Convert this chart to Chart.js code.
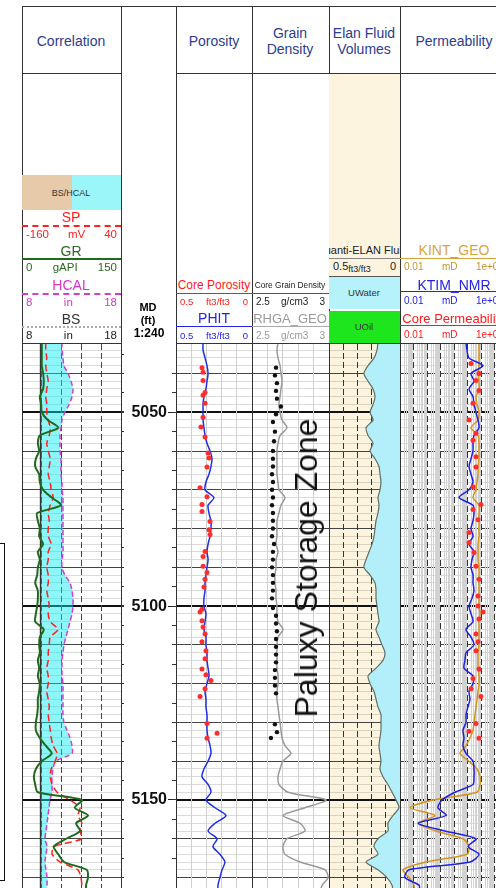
<!DOCTYPE html>
<html lang="en">
<head>
<meta charset="UTF-8" />
<title>Paluxy Storage Zone Log</title>
<script src="https://cdn.jsdelivr.net/npm/chart.js"></script>
<style>
  html, body { margin: 0; padding: 0; }
  body { position: relative; width: 496px; height: 888px; overflow: hidden; background: #fff;
         font-family: "Liberation Sans", Arial, sans-serif; }
  canvas { position: absolute; top: 344px; }
  .ln { position: absolute; background: #333; }
  .tx { position: absolute; transform: translate(-50%, -50%); white-space: nowrap; line-height: 1; }
  .title { color: #2d3c8e; font-size: 14px; text-align: center; line-height: 16px; }
  .nm { font-size: 14px; }
  .sc { position: absolute; display: flex; justify-content: space-between; align-items: center;
        padding: 0 4px; box-sizing: border-box; line-height: 1; white-space: nowrap; transform: translateY(-50%); }
  .rule { position: absolute; height: 0; }
  .box { position: absolute; }
</style>
</head>
<body>
  <canvas id="corrChart" width="102" height="544" style="left:22px"></canvas>
  <canvas id="depthChart" width="55" height="544" style="left:121px"></canvas>
  <canvas id="porChart" width="76" height="544" style="left:176px"></canvas>
  <canvas id="gdChart" width="77" height="544" style="left:252px"></canvas>
  <canvas id="elanChart" width="71" height="544" style="left:329px;background:#fcf4de"></canvas>
  <canvas id="permChart" width="108" height="544" style="left:400px"></canvas>

  <!-- frame -->
  <div class="ln" style="left:22px;top:6px;width:474px;height:1px"></div>
  <div class="ln" style="left:22px;top:73px;width:99px;height:1px"></div>
  <div class="ln" style="left:176px;top:73px;width:320px;height:1px"></div>
  <div class="ln" style="left:22px;top:343px;width:99px;height:1px"></div>
  <div class="ln" style="left:176px;top:343px;width:320px;height:1px"></div>
  <div class="ln" style="left:22px;top:6px;width:1px;height:882px"></div>
  <div class="ln" style="left:121px;top:6px;width:1px;height:882px"></div>
  <div class="ln" style="left:176px;top:6px;width:1px;height:882px"></div>
  <div class="ln" style="left:252px;top:6px;width:1px;height:882px"></div>
  <div class="ln" style="left:329px;top:6px;width:1px;height:882px"></div>
  <div class="ln" style="left:400px;top:6px;width:1px;height:882px"></div>

  <!-- titles -->
  <div class="tx title" style="left:71px;top:41px">Correlation</div>
  <div class="tx title" style="left:214px;top:41px">Porosity</div>
  <div class="tx title" style="left:290px;top:41px">Grain<br>Density</div>
  <div class="tx title" style="left:364px;top:41px">Elan Fluid<br>Volumes</div>
  <div class="tx title" style="left:454px;top:41px">Permeability</div>

  <!-- correlation header -->
  <div class="box" style="left:22px;top:175px;width:50px;height:35px;background:#e7caa9"></div>
  <div class="box" style="left:72px;top:175px;width:49px;height:35px;background:#9bf6fa"></div>
  <div class="tx" style="left:71px;top:193px;font-size:9px;color:#333">BS/HCAL</div>
  <div class="tx nm" style="left:71px;top:217px;color:#ff2020">SP</div>
  <div class="rule" style="left:22px;top:225px;width:99px;border-top:2px dashed #ff2020"></div>
  <div class="sc" style="left:22px;top:235px;width:99px;color:#ff2020;font-size:11.5px"><span>-160</span><span>mV</span><span>40</span></div>
  <div class="tx nm" style="left:71px;top:251px;color:#2b6b22">GR</div>
  <div class="rule" style="left:22px;top:258px;width:99px;border-top:2px solid #1e6b1e"></div>
  <div class="sc" style="left:22px;top:268px;width:99px;color:#2b6b22;font-size:11.5px"><span>0</span><span>gAPI</span><span>150</span></div>
  <div class="tx nm" style="left:71px;top:285px;color:#d936c6">HCAL</div>
  <div class="rule" style="left:22px;top:293px;width:99px;border-top:2px dashed #d63bd0"></div>
  <div class="sc" style="left:22px;top:303px;width:99px;color:#d936c6;font-size:11.5px"><span>8</span><span>in</span><span>18</span></div>
  <div class="tx nm" style="left:71px;top:319px;color:#333">BS</div>
  <div class="rule" style="left:22px;top:326px;width:99px;border-top:2px dotted #aaa"></div>
  <div class="sc" style="left:22px;top:336px;width:99px;color:#222;font-size:11.5px"><span>8</span><span>in</span><span>18</span></div>

  <!-- depth header -->
  <div class="tx" style="left:148px;top:307px;font-size:11px;font-weight:bold">MD</div>
  <div class="tx" style="left:148px;top:320px;font-size:11px;font-weight:bold">(ft)</div>
  <div class="tx" style="left:149px;top:333px;font-size:12px;font-weight:bold">1:240</div>

  <!-- porosity header -->
  <div class="tx" style="left:214px;top:285px;font-size:12px;color:#ff1a1a">Core Porosity</div>
  <div class="rule" style="left:176px;top:293px;width:76px;border-top:1.5px solid #ff1a1a"></div>
  <div class="sc" style="left:176px;top:302px;width:76px;color:#ff1a1a;font-size:9.5px"><span>0.5</span><span>ft3/ft3</span><span>0</span></div>
  <div class="tx nm" style="left:214px;top:318px;color:#2222e8">PHIT</div>
  <div class="rule" style="left:176px;top:326px;width:76px;border-top:1.5px solid #2222e8"></div>
  <div class="sc" style="left:176px;top:336px;width:76px;color:#2222e8;font-size:9.5px"><span>0.5</span><span>ft3/ft3</span><span>0</span></div>

  <!-- grain density header -->
  <div class="tx" style="left:290px;top:285px;font-size:8.3px;color:#222">Core Grain Density</div>
  <div class="rule" style="left:252px;top:293px;width:77px;border-top:1px solid #555"></div>
  <div class="sc" style="left:252px;top:302px;width:77px;color:#222;font-size:10px"><span>2.5</span><span>g/cm3</span><span>3</span></div>
  <div class="tx" style="left:290px;top:318px;font-size:13px;color:#9a9a9a">RHGA_GEO</div>
  <div class="rule" style="left:252px;top:326px;width:77px;border-top:1.5px solid #aaa"></div>
  <div class="sc" style="left:252px;top:336px;width:77px;color:#9a9a9a;font-size:10px"><span>2.5</span><span>g/cm3</span><span>3</span></div>

  <!-- elan header -->
  <div class="box" style="left:329px;top:74px;width:71px;height:202px;background:#fcf4de"></div>
  <div class="box" style="left:329px;top:243px;width:71px;height:14px;overflow:hidden">
    <div style="position:absolute;left:33px;top:1px;transform:translateX(-50%);white-space:nowrap;font-size:11px;color:#222">Quanti-ELAN Fluid</div>
  </div>
  <div class="rule" style="left:329px;top:258px;width:71px;border-top:1px solid #888"></div>
  <div class="sc" style="left:329px;top:266px;width:71px;color:#222;font-size:11px"><span>0.5<span style="font-size:9px;position:relative;top:2px">ft3/ft3</span></span><span>0</span></div>
  <div class="rule" style="left:329px;top:276px;width:71px;border-top:1px solid #555"></div>
  <div class="box" style="left:329px;top:277px;width:71px;height:32px;background:#b6f2f9"></div>
  <div class="tx" style="left:364px;top:293px;font-size:9.5px;color:#333">UWater</div>
  <div class="box" style="left:329px;top:311px;width:71px;height:32px;background:#1de61d"></div>
  <div class="tx" style="left:364px;top:327px;font-size:9.5px;color:#333">UOil</div>

  <!-- permeability header -->
  <div class="tx nm" style="left:454px;top:250px;color:#dba33a">KINT_GEO</div>
  <div class="rule" style="left:400px;top:258px;width:108px;border-top:1.5px solid #dba33a"></div>
  <div class="sc" style="left:400px;top:267px;width:108px;color:#c8932c;font-size:10px"><span>0.01</span><span>mD</span><span>1e+06</span></div>
  <div class="tx nm" style="left:454px;top:285px;color:#2424e0">KTIM_NMR</div>
  <div class="rule" style="left:400px;top:291px;width:108px;border-top:1.5px solid #2424e0"></div>
  <div class="sc" style="left:400px;top:301px;width:108px;color:#2424e0;font-size:10px"><span>0.01</span><span>mD</span><span>1e+06</span></div>
  <div class="tx" style="left:454px;top:318px;font-size:13px;color:#ff1a1a">Core Permeability</div>
  <div class="rule" style="left:400px;top:325px;width:108px;border-top:1.5px solid #ff1a1a"></div>
  <div class="sc" style="left:400px;top:335px;width:108px;color:#ff1a1a;font-size:10px"><span>0.01</span><span>mD</span><span>1e+06</span></div>

  <!-- zone label and side box -->
  <div class="tx" style="left:306px;top:568px;font-size:32px;color:#111;transform:translate(-50%,-50%) rotate(-90deg)">Paluxy Storage Zone</div>
  <div class="box" style="left:-10px;top:543px;width:13px;height:336px;border:1.5px solid #111"></div>

<script>
  // ---- data (depth in ft MD) ----
  const depthFt = [
    5032, 5034, 5036, 5038, 5040, 5042, 5044, 5046, 5048, 5050,
    5052, 5054, 5056, 5058, 5060, 5062, 5064, 5066, 5068, 5070,
    5072, 5074, 5076, 5078, 5080, 5082, 5084, 5086, 5088, 5090,
    5092, 5094, 5096, 5098, 5100, 5102, 5104, 5106, 5108, 5110,
    5112, 5114, 5116, 5118, 5120, 5122, 5124, 5126, 5128, 5130,
    5132, 5134, 5136, 5138, 5140, 5142, 5144, 5146, 5148, 5150,
    5152, 5154, 5156, 5158, 5160, 5162, 5164, 5166, 5168, 5170,
    5172, 5174
  ];
  const grApi = [
    30, 30, 30, 30, 32, 33, 32, 27, 29, 30,
    39, 55, 27, 24, 26, 21, 20, 26, 27, 32,
    45, 59, 23, 24, 27, 26, 32, 24, 27, 24,
    23, 20, 24, 24, 23, 21, 20, 33, 27, 26,
    27, 24, 26, 24, 27, 26, 24, 24, 23, 21,
    21, 27, 36, 45, 30, 21, 18, 20, 24, 91,
    80, 100, 82, 88, 67, 48, 55, 64, 98, 100,
    97, 97
  ];
  const spMv = [
    -112, -112, -110, -112, -110, -107, -110, -112, -110, -110,
    -107, -103, -105, -110, -107, -103, -105, -107, -103, -101,
    -97, -103, -107, -105, -107, -107, -101, -107, -107, -110,
    -107, -107, -110, -107, -105, -107, -103, -87, -103, -105,
    -107, -107, -110, -107, -107, -110, -107, -105, -107, -105,
    -103, -101, -97, -89, -93, -101, -103, -99, -89, -63,
    -43, -47, -39, -43, -39, -95, -99, -83, -47, -41,
    -39, -39
  ];
  const calIn = [
    12.04, 12.04, 12.14, 12.24, 12.65, 12.95, 13.15, 13.05, 12.75, 12.34,
    12.04, 11.94, 11.84, 11.84, 11.84, 11.94, 11.94, 11.94, 12.04, 12.04,
    12.14, 12.14, 12.14, 12.14, 12.14, 12.14, 12.14, 12.14, 12.04, 12.04,
    12.34, 12.85, 13.05, 13.15, 13.15, 13.05, 12.85, 12.65, 12.44, 12.24,
    12.14, 12.04, 12.04, 12.04, 12.14, 12.14, 12.14, 12.14, 12.14, 12.24,
    12.55, 12.85, 13.05, 13.05, 11.4, 11.13, 11.03, 11.03, 11.03, 10.83,
    10.73, 10.63, 10.53, 10.42, 10.32, 10.53, 10.42, 10.32, 10.42, 10.53,
    10.53, 10.53
  ];
  const bsDepth = [5032, 5174];
  const bsIn = [9.875, 9.875];

  const phit = [
    0.322, 0.322, 0.309, 0.296, 0.289, 0.296, 0.303, 0.316, 0.322, 0.322,
    0.322, 0.316, 0.309, 0.296, 0.276, 0.263, 0.270, 0.283, 0.303, 0.309,
    0.250, 0.289, 0.283, 0.270, 0.270, 0.276, 0.289, 0.296, 0.289, 0.296,
    0.303, 0.309, 0.309, 0.316, 0.316, 0.303, 0.309, 0.316, 0.303, 0.303,
    0.296, 0.296, 0.289, 0.283, 0.296, 0.309, 0.303, 0.303, 0.296, 0.296,
    0.296, 0.289, 0.276, 0.270, 0.289, 0.316, 0.329, 0.289, 0.270, 0.303,
    0.243, 0.171, 0.243, 0.289, 0.230, 0.257, 0.211, 0.178, 0.197, 0.211,
    0.224, 0.224
  ];
  const corePorDepth = [
    5038.5, 5039.7, 5041.8, 5044.9, 5045.6, 5047.7, 5051.3, 5053.8, 5056.4, 5060.5,
    5061.8, 5064.1, 5069.5, 5071.8, 5073.8, 5075.6, 5078.2, 5080.3, 5081.5, 5085.9,
    5087.2, 5089.7, 5091.3, 5093.1, 5095.1, 5100.8, 5101.5, 5103.8, 5105.4, 5107.2,
    5109.2, 5111.5, 5113.6, 5116.2, 5117.7, 5119.2, 5121.3, 5123.3, 5130.3, 5132.8,
    5134.1
  ];
  const corePor = [
    0.329, 0.322, 0.322, 0.309, 0.322, 0.309, 0.322, 0.336, 0.309, 0.289,
    0.283, 0.296, 0.342, 0.296, 0.329, 0.329, 0.276, 0.283, 0.276, 0.309,
    0.322, 0.322, 0.296, 0.309, 0.316, 0.329, 0.342, 0.329, 0.322, 0.309,
    0.329, 0.303, 0.309, 0.329, 0.303, 0.270, 0.309, 0.342, 0.296, 0.230,
    0.296
  ];

  const rhgaGeo = [
    2.669, 2.662, 2.669, 2.682, 2.688, 2.695, 2.688, 2.682, 2.675, 2.682,
    2.695, 2.727, 2.682, 2.669, 2.662, 2.662, 2.662, 2.662, 2.669, 2.675,
    2.714, 2.688, 2.675, 2.662, 2.662, 2.662, 2.656, 2.669, 2.656, 2.656,
    2.649, 2.649, 2.656, 2.656, 2.662, 2.662, 2.669, 2.701, 2.669, 2.662,
    2.662, 2.662, 2.662, 2.669, 2.669, 2.662, 2.662, 2.669, 2.675, 2.682,
    2.688, 2.695, 2.714, 2.753, 2.701, 2.682, 2.669, 2.675, 2.734, 2.981,
    2.844, 2.701, 2.812, 2.844, 2.727, 2.701, 2.714, 2.812, 2.974, 2.994,
    2.955, 2.942
  ];
  const coreGdDepth = [
    5038.5, 5040.5, 5042.5, 5044.5, 5046.5, 5048.5, 5050.5, 5052.5, 5055, 5057.5,
    5060, 5062, 5064, 5066, 5068, 5070, 5072, 5074, 5076, 5078,
    5080, 5082, 5084, 5086, 5088, 5090, 5092, 5094, 5096, 5098,
    5100.5, 5102.5, 5104.5, 5106.5, 5108.5, 5110.5, 5112.5, 5114.5, 5116.5, 5118.5,
    5120.5, 5122.5, 5130.5, 5132.5, 5134
  ];
  const coreGd = [
    2.656, 2.649, 2.662, 2.656, 2.662, 2.688, 2.656, 2.636, 2.649, 2.643,
    2.636, 2.636, 2.636, 2.630, 2.636, 2.630, 2.636, 2.630, 2.636, 2.636,
    2.636, 2.630, 2.643, 2.636, 2.636, 2.630, 2.636, 2.636, 2.636, 2.630,
    2.636, 2.656, 2.656, 2.662, 2.656, 2.656, 2.656, 2.656, 2.649, 2.649,
    2.649, 2.656, 2.649, 2.662, 2.623
  ];

  const waterVol = [
    0.155, 0.162, 0.183, 0.225, 0.254, 0.225, 0.190, 0.176, 0.190, 0.211,
    0.190, 0.239, 0.225, 0.190, 0.211, 0.176, 0.148, 0.141, 0.134, 0.141,
    0.155, 0.148, 0.155, 0.169, 0.176, 0.183, 0.197, 0.218, 0.239, 0.254,
    0.211, 0.176, 0.169, 0.169, 0.162, 0.155, 0.148, 0.169, 0.148, 0.127,
    0.106, 0.120, 0.169, 0.225, 0.211, 0.183, 0.169, 0.155, 0.134, 0.134,
    0.134, 0.141, 0.148, 0.141, 0.134, 0.141, 0.120, 0.085, 0.056, 0.028,
    0.007, 0.049, 0.085, 0.085, 0.155, 0.183, 0.155, 0.239, 0.155, 0.092,
    0.056, 0.049
  ];

  const ktimNmr = [
    774, 918, 1290, 14100, 1820, 3030, 1290, 2560, 3030, 4260,
    6000, 7110, 3030, 2560, 2560, 1820, 1290, 1820, 2560, 1290,
    234, 2560, 3030, 2560, 1820, 2560, 1290, 3030, 2150, 1820,
    2560, 2560, 3030, 2150, 1290, 1820, 2560, 774, 1820, 3030,
    774, 653, 551, 2560, 2560, 1290, 1530, 1090, 774, 774,
    464, 551, 464, 774, 2560, 3030, 3030, 2560, 119, 12.9,
    6.5, 25.5, 0.22, 21.5, 4260, 1090, 7110, 1530, 0.046, 0.023,
    0.26, 0.26
  ];
  const kintGeo = [
    7110, 7110, 7110, 7110, 6000, 7110, 7110, 4260, 5060, 7110,
    6000, 1820, 6000, 7110, 7110, 7110, 6000, 6000, 5060, 4260,
    2560, 7110, 7110, 7110, 7110, 7110, 6000, 6000, 6000, 7110,
    7110, 7110, 7110, 7110, 7110, 8430, 7110, 7110, 7110, 7110,
    6000, 6000, 6000, 7110, 7110, 6000, 5060, 4260, 3590, 3030,
    2560, 1530, 774, 278, 1290, 5060, 8430, 8430, 5060, 2.8,
    0.055, 3.9, 0.22, 4.6, 464, 1290, 918, 0.84, 0.017, 0.046,
    0.109, 0.109
  ];
  const corePermDepth = [
    5037.4, 5040, 5041.8, 5044.4, 5047.7, 5052, 5055.4, 5057.2, 5061.5, 5064.1,
    5069.2, 5073.8, 5075.1, 5077.7, 5081, 5083.6, 5086.2, 5089.7, 5093.1, 5097.4,
    5100, 5101.5, 5103.3, 5107.2, 5109.2, 5111.5, 5116.2, 5118.7, 5121.3, 5123.3,
    5130.3, 5132.3, 5134.1
  ];
  const corePerm = [
    1820, 7110, 4260, 7110, 2560, 1290, 4260, 2560, 4260, 4260,
    2560, 10000, 2560, 6000, 1290, 1290, 3030, 4260, 7110, 6000,
    6000, 14100, 7110, 4260, 6000, 4260, 7110, 2560, 1820, 10000,
    4260, 1290, 7110
  ];

  const depthLabels = [5050, 5100, 5150];
  const permDecades = [0.01, 0.1, 1, 10, 100, 1000, 1e4, 1e5, 1e6];
  const permMinor = [2, 3, 4, 5, 6, 7, 8, 9];

  // ---- chart helpers ----
  const TOP_MD = 5032.4;
  const BASE_MD = 5172.7;
  const FONT = '"Liberation Sans", Arial, sans-serif';
  const CLEAR = 'rgba(0,0,0,0)';

  Chart.defaults.font.family = FONT;

  const pairs = (ds, vs) => ds.map((d, i) => ({ x: vs[i], y: d }));

  function depthGridColor(v) {
    if (v % 50 === 0) return '#111';
    if (v % 10 === 0) return '#444';
    if (v % 2 === 0) return 'rgba(0,0,0,0.14)';
    return CLEAR;
  }

  function depthAxis(extra) {
    return Object.assign({
      type: 'linear', axis: 'y', position: 'left', reverse: true,
      min: TOP_MD, max: BASE_MD,
      ticks: { display: false, stepSize: 1 },
      grid: {
        color: c => depthGridColor(c.tick.value),
        lineWidth: c => (c.tick.value % 50 === 0 ? 2 : 1),
        drawTicks: false
      },
      border: { display: false },
      afterFit: s => { s.width = 0; }
    }, extra);
  }

  function valueAxis(min, max, extra) {
    return Object.assign({
      type: 'linear', axis: 'x', position: 'bottom', min: min, max: max,
      ticks: { display: false },
      grid: { display: false, drawTicks: false },
      border: { display: false },
      afterFit: s => { s.height = 0; }
    }, extra);
  }

  function curve(ds, vs, axis, color, width, dash) {
    return {
      data: pairs(ds, vs), xAxisID: axis, yAxisID: 'y', showLine: true,
      pointRadius: 0, borderColor: color, borderWidth: width,
      borderDash: dash || [], tension: 0.25
    };
  }

  function dots(ds, vs, axis, color, r) {
    return {
      data: pairs(ds, vs), xAxisID: axis, yAxisID: 'y', showLine: false,
      pointRadius: r, pointBorderWidth: 0, pointBackgroundColor: color, backgroundColor: color
    };
  }

  // fills between a curve and another curve (or the right edge of the track)
  function bandFill(bands) {
    return {
      id: 'bandFill',
      beforeDatasetsDraw(chart) {
        const ctx = chart.ctx, area = chart.chartArea;
        ctx.save();
        ctx.beginPath();
        ctx.rect(area.left, area.top, area.right - area.left, area.bottom - area.top);
        ctx.clip();
        bands.forEach(b => {
          const a = chart.getDatasetMeta(b.from).data;
          ctx.beginPath();
          a.forEach((p, i) => (i ? ctx.lineTo(p.x, p.y) : ctx.moveTo(p.x, p.y)));
          if (b.to === 'right') {
            ctx.lineTo(area.right, a[a.length - 1].y);
            ctx.lineTo(area.right, a[0].y);
          } else {
            const c = chart.getDatasetMeta(b.to).data;
            for (let i = c.length - 1; i >= 0; i--) ctx.lineTo(c[i].x, c[i].y);
          }
          ctx.closePath();
          ctx.fillStyle = b.color;
          ctx.fill();
        });
        ctx.restore();
      }
    };
  }

  function makeChart(id, datasets, scales, plugins) {
    return new Chart(document.getElementById(id), {
      type: 'scatter',
      data: { datasets: datasets },
      options: {
        responsive: false, animation: false, devicePixelRatio: 1, events: [],
        layout: { padding: 0, autoPadding: false },
        plugins: { legend: { display: false }, tooltip: { enabled: false } },
        scales: scales
      },
      plugins: plugins || []
    });
  }

  // ---- correlation track ----
  makeChart('corrChart', [
    curve(depthFt, grApi, 'xGR', '#1e6b1e', 2),
    curve(depthFt, spMv, 'xSP', '#ff2020', 1.5, [7, 4]),
    curve(depthFt, calIn, 'xCal', '#d63bd0', 1.5, [5, 3]),
    curve(bsDepth, bsIn, 'xCal', '#333', 1.5)
  ], {
    y: depthAxis({
      position: 'right',
      grid: {
        color: c => depthGridColor(c.tick.value),
        lineWidth: c => (c.tick.value % 50 === 0 ? 2 : 1),
        drawTicks: true, tickLength: 3,
        tickColor: c => (c.tick.value % 5 === 0 ? '#333' : CLEAR)
      },
      afterFit: s => { s.width = 3; }
    }),
    xCal: valueAxis(8, 18, {
      ticks: { display: false, stepSize: 2 },
      grid: { color: '#444', drawTicks: false },
      border: { display: false, dash: [6, 3] }
    }),
    xGR: valueAxis(0, 150),
    xSP: valueAxis(-160, 40)
  }, [bandFill([{ from: 2, to: 3, color: 'rgba(0,235,242,0.45)' }])]);

  // ---- depth track ----
  makeChart('depthChart', [], {
    x: { display: false },
    y: {
      type: 'linear', position: 'left', reverse: true, min: TOP_MD, max: BASE_MD,
      ticks: {
        stepSize: 5, autoSkip: false, padding: 1, color: '#111',
        font: { size: 16, weight: 'bold' },
        callback: v => (depthLabels.includes(v) ? String(v) : '')
      },
      grid: {
        drawTicks: true, tickLength: 4,
        color: c => (Number.isInteger(c.tick.value) ? '#333' : CLEAR),
        tickColor: c => (depthLabels.includes(c.tick.value) ? '#222' : CLEAR)
      },
      border: { display: false },
      // keep the track the full height: no room reserved for the end labels
      afterFit: s => { s.width = 51; s.paddingTop = 0; s.paddingBottom = 0; }
    }
  });

  // ---- porosity track ----
  makeChart('porChart', [
    dots(corePorDepth, corePor, 'x', '#ff2d2d', 2.5),
    curve(depthFt, phit, 'x', '#1f2fe6', 1.5)
  ], {
    y: depthAxis(),
    x: valueAxis(0, 0.5, {
      reverse: true,
      ticks: { display: false, stepSize: 0.1 },
      grid: { color: '#cfcfcf', drawTicks: false }
    })
  });

  // ---- grain density track ----
  makeChart('gdChart', [
    dots(coreGdDepth, coreGd, 'x', '#111', 2.2),
    curve(depthFt, rhgaGeo, 'x', '#9a9a9a', 1.5)
  ], {
    y: depthAxis(),
    x: valueAxis(2.5, 3, {
      ticks: { display: false, stepSize: 0.1 },
      grid: { color: '#cfcfcf', drawTicks: false }
    })
  });

  // ---- elan fluid volumes track ----
  makeChart('elanChart', [
    curve(depthFt, waterVol, 'x', '#5f6f62', 1.2)
  ], {
    y: depthAxis(),
    x: valueAxis(0, 0.5, {
      reverse: true,
      ticks: { display: false, stepSize: 0.1 },
      grid: { color: '#333', drawTicks: false },
      border: { display: false, dash: [6, 3] }
    })
  }, [bandFill([{ from: 0, to: 'right', color: '#b2effa' }])]);

  // ---- permeability track ----
  const minorTicks = [];
  permDecades.slice(0, -1).forEach(d => permMinor.forEach(k => minorTicks.push({ value: d * k })));

  makeChart('permChart', [
    dots(corePermDepth, corePerm, 'x', '#ff2d2d', 2.5),
    curve(depthFt, ktimNmr, 'x', '#2020e0', 1.5),
    curve(depthFt, kintGeo, 'x', '#d4941f', 1.5)
  ], {
    y: depthAxis(),
    x: valueAxis(0.01, 1e6, {
      type: 'logarithmic',
      grid: { color: '#d2d2d2', drawTicks: false },
      afterBuildTicks: s => { s.ticks = minorTicks.slice(); }
    }),
    x2: valueAxis(0.01, 1e6, {
      type: 'logarithmic', position: 'top',
      grid: { color: '#333', drawTicks: false },
      border: { display: false, dash: [6, 3] },
      afterBuildTicks: s => { s.ticks = permDecades.map(v => ({ value: v })); }
    })
  });
</script>
</body>
</html>
